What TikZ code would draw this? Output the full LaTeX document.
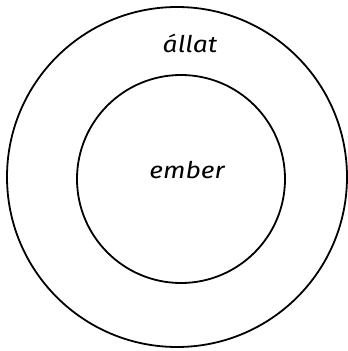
\documentclass[tikz,border=0pt]{standalone}
\usepackage{fontspec}
\setmainfont{Fira Sans}
\begin{document}
\begin{tikzpicture}[x=1pt,y=1pt,
  ring/.style={draw=black,line width=1.8pt},
  lbl/.style={font=\fontsize{23}{26}\selectfont\itshape,inner sep=0pt}]
\useasboundingbox (0,0) rectangle (348,351);
\node[ring,circle,minimum size=340pt,inner sep=0pt] (outer) at (177,174) {};
\node[ring,circle,minimum size=208pt,inner sep=0pt] (inner) at (181,172) {};
\node[lbl,xscale=1.15] (allat) at (190,308) {állat};
\node[lbl,xscale=1.15] (ember) at (187,181) {ember};
\end{tikzpicture}
\end{document}
